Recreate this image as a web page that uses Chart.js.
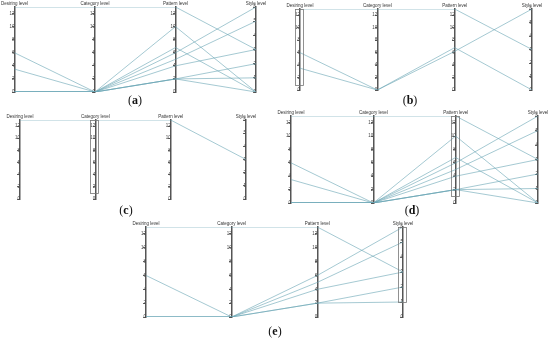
<!DOCTYPE html>
<html>
<head>
<meta charset="utf-8">
<script src="https://cdn.jsdelivr.net/npm/chart.js@4.4.0/dist/chart.umd.min.js"></script>
<style>
  html, body { margin: 0; padding: 0; background: #fff; }
  #wrap { position: relative; width: 550px; height: 339px; overflow: hidden; }
  canvas { position: absolute; left: 0; top: 0; }
  .tag { position: absolute; font-family: "Liberation Serif", serif; font-size: 12px; transform: translateX(-50%); color: #111; }
</style>
</head>
<body>
<div id="wrap">
  <canvas id="ca" width="550" height="339"></canvas>
  <canvas id="cb" width="550" height="339"></canvas>
  <canvas id="cc" width="550" height="339"></canvas>
  <canvas id="cd" width="550" height="339"></canvas>
  <canvas id="ce" width="550" height="339"></canvas>
  <div class="tag" style="left:135px;top:93px">(<b>a</b>)</div>
  <div class="tag" style="left:410px;top:93px">(<b>b</b>)</div>
  <div class="tag" style="left:126px;top:203px">(<b>c</b>)</div>
  <div class="tag" style="left:412px;top:203px">(<b>d</b>)</div>
  <div class="tag" style="left:275px;top:324px">(<b>e</b>)</div>
</div>
<script>
const levels = ['Desiring level', 'Category level', 'Pattern level', 'Style level'];
const mainMax = 13;   // desiring / category / pattern axes
const styleMax = 6;   // style axis

// each row is one record: [desiring, category, pattern, style]
const recordsA = [
  [13, 13, 13, 3],
  [6, 0, 10, 0],
  [3.5, 0, 6.8, 0],
  [0, 0, 6, 6],
  [0, 0, 5, 5],
  [0, 0, 4, 3],
  [0, 0, 2, 2],
  [0, 0, 2, 1],
  [0, 0, 2, 0]
];
const recordsB = [
  [13, 13, 13, 3],
  [6, 0, 6.8, 0],
  [3.5, 0, 6.2, 6]
];
const recordsC = [
  [13, 13, 13, 3]
];
const recordsD = [
  [13, 13, 13, 3],
  [6, 0, 10, 0],
  [3.5, 0, 6.8, 0],
  [0, 0, 6, 6],
  [0, 0, 5, 5],
  [0, 0, 4, 3],
  [0, 0, 2, 2],
  [0, 0, 2, 1],
  [0, 0, 2, 0]
];
const recordsE = [
  [13, 13, 13, 3],
  [6, 0, 6, 6],
  [0, 0, 5, 5],
  [0, 0, 4, 3],
  [0, 0, 2, 2],
  [0, 0, 2, 1]
];

// brushed ranges (axis id, from, to) in that axis' units
const brushB = ['yD', 0.8, 13];
const brushC = ['yC', 1, 13];
const brushD = ['yP', 1, 13];
const brushE = ['yS', 1, 6];

const brushPlugin = {
  id: 'brush',
  afterDatasetsDraw(chart, args, opts) {
    if (!opts.box) return;
    const [id, from, to] = opts.box;
    const sc = chart.scales[id];
    const x = chart.scales.x.getPixelForValue(levels[['yD', 'yC', 'yP', 'yS'].indexOf(id)]);
    const top = sc.getPixelForValue(to);
    const bottom = sc.getPixelForValue(from);
    const ctx = chart.ctx;
    ctx.save();
    ctx.strokeStyle = '#777';
    ctx.lineWidth = 0.8;
    ctx.strokeRect(Math.round(x) - 4.5, Math.round(top) + 0.5, 8, Math.round(bottom - top));
    ctx.restore();
  }
};

function levelAxis(i, max) {
  return {
    type: 'linear',
    axis: 'y',
    position: { x: levels[i] },
    min: 0,
    max: max,
    ticks: {
      stepSize: max === styleMax ? 1 : 2,
      includeBounds: false,
      font: { size: 4.5, family: 'Liberation Sans' },
      color: '#444',
      padding: 2
    },
    grid: { drawOnChartArea: false, tickLength: 2, color: '#666' },
    border: { color: '#555', width: 1.5 }
  };
}

function makeChart(id, records, box, area) {
  const datasets = records.map(r => ({
    data: [r[0], r[1], r[2], r[3] * mainMax / styleMax],
    borderColor: 'rgba(105, 165, 180, 0.6)',
    borderWidth: 1,
    pointRadius: 0,
    tension: 0,
    fill: false
  }));
  const pad = { left: area[0], top: area[1], right: 550 - area[2], bottom: 339 - area[3] };
  const chart = new Chart(document.getElementById(id), {
    type: 'line',
    data: { labels: levels, datasets: datasets },
    plugins: [brushPlugin],
    options: {
      responsive: false,
      animation: false,
      layout: { padding: pad },
      plugins: { legend: { display: false }, tooltip: { enabled: false }, brush: { box: box } },
      scales: {
        x: {
          position: 'top',
          offset: false,
          grid: { display: false, drawTicks: false },
          border: { display: false },
          ticks: { font: { size: 4.5, family: 'Liberation Sans' }, color: '#333', padding: 1, maxRotation: 0, autoSkip: false }
        },
        y: { display: false, min: 0, max: mainMax },
        yD: levelAxis(0, mainMax),
        yC: levelAxis(1, mainMax),
        yP: levelAxis(2, mainMax),
        yS: levelAxis(3, styleMax)
      }
    }
  });
  // nudge padding so the plot area lands on the wanted box
  for (let k = 0; k < 2; k++) {
    const ca = chart.chartArea;
    pad.left += area[0] - ca.left;
    pad.top += area[1] - ca.top;
    pad.right += ca.right - area[2];
    pad.bottom += ca.bottom - area[3];
    chart.update();
  }
  return chart;
}

makeChart('ca', recordsA, null, [13, 7, 256, 92]);
makeChart('cb', recordsB, brushB, [300, 9, 532, 90]);
makeChart('cc', recordsC, brushC, [20, 120, 246, 199]);
makeChart('cd', recordsD, brushD, [291, 116, 538, 203]);
makeChart('ce', recordsE, brushE, [146, 227, 403, 317]);
</script>
</body>
</html>
